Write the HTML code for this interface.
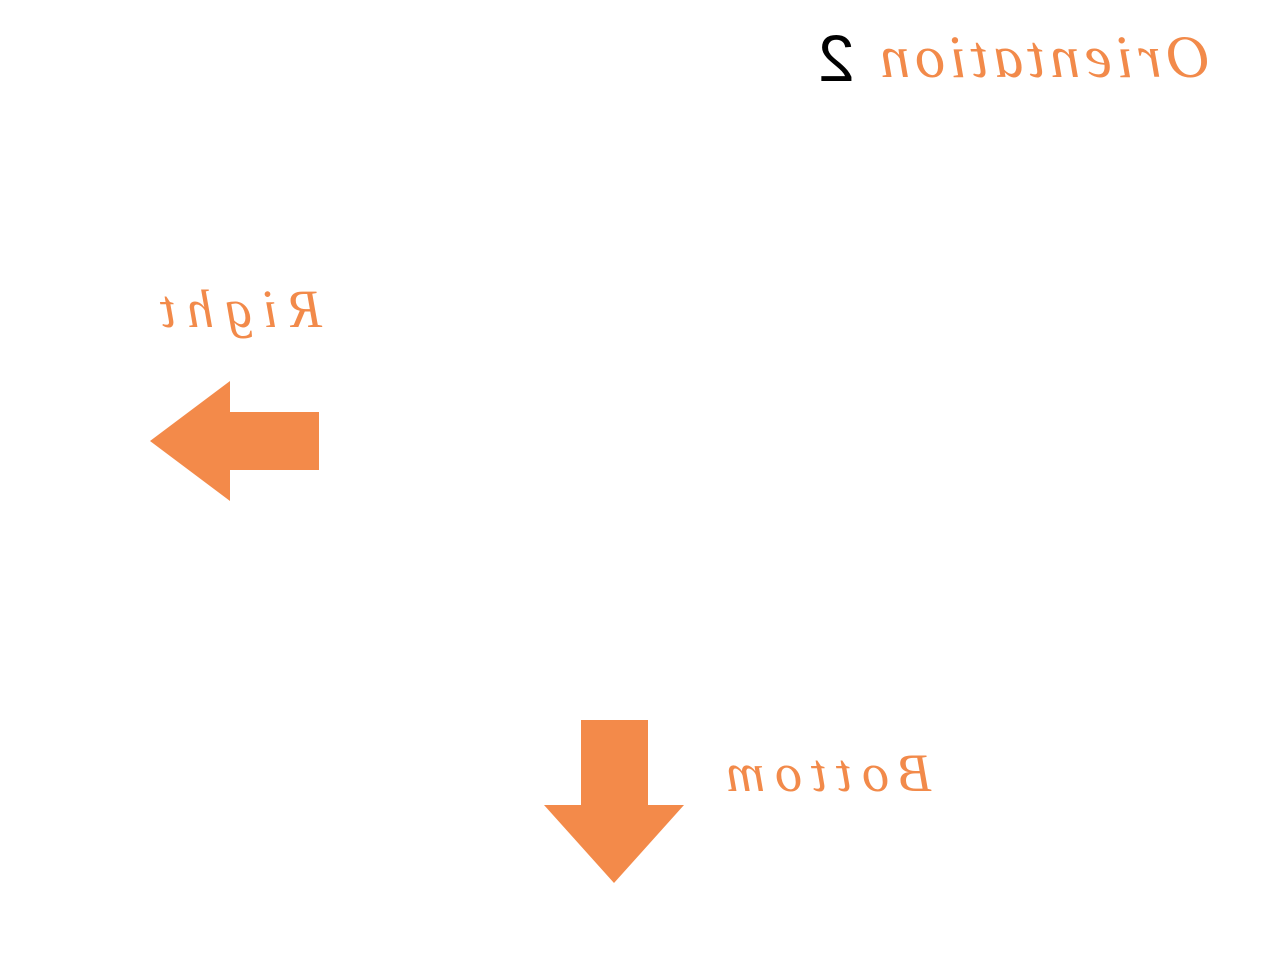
<!DOCTYPE html>
<html>
<head>
<meta charset="utf-8">
<style>
  html,body{margin:0;padding:0;background:#fff;}
  body{width:1280px;height:960px;position:relative;overflow:hidden;font-family:"Liberation Serif",serif;}
  .mir{position:absolute;transform:scaleX(-1);transform-origin:center;white-space:nowrap;font-style:italic;color:#F28A4A;}
</style>
</head>
<body>
<div class="mir" style="left:875px;top:22px;font-size:60px;line-height:70px;letter-spacing:5px;">Orientation</div>
<div class="mir" style="left:818px;top:20px;font-size:66px;line-height:76px;color:#000;font-style:normal;font-family:'Liberation Sans',sans-serif;">2</div>
<div class="mir" style="left:150px;top:278px;font-size:54px;line-height:62px;letter-spacing:11px;">Right</div>
<div class="mir" style="left:716px;top:742px;font-size:54px;line-height:62px;letter-spacing:10px;">Bottom</div>
<svg width="1280" height="960" style="position:absolute;left:0;top:0;">
  <polygon fill="#F38A4A" points="150,441 230,381 230,412 319,412 319,470 230,470 230,501"/>
  <polygon fill="#F38A4A" points="581,720 648,720 648,805 684,805 614,883 544,805 581,805"/>
</svg>
</body>
</html>
